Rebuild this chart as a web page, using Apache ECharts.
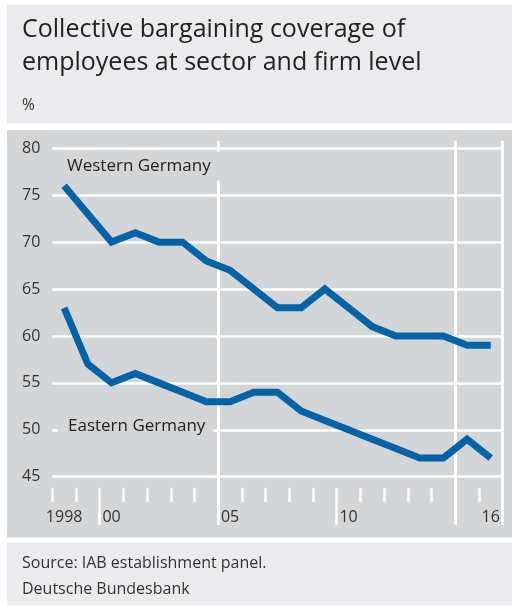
<!DOCTYPE html>
<html>
<head>
<meta charset="utf-8">
<script src="https://cdn.jsdelivr.net/npm/echarts@6/dist/echarts.min.js"></script>
<style>html,body{margin:0;padding:0;background:#fff}#c{width:512px;height:606px}</style>
</head>
<body>
<div id="c"></div>
<script>
const years = ['1998','1999','2000','2001','2002','2003','2004','2005','2006','2007','2008','2009','2010','2011','2012','2013','2014','2015','2016'];
const western = [76,73,70,71,70,70,68,67,65,63,63,65,63,61,60,60,60,59,59];
const eastern = [63,57,55,56,55,54,53,53,54,54,52,51,50,49,48,47,47,49,47];
const xTickLabels = {'1998':'1998','2000':'00','2005':'05','2010':'10','2016':'16'};
const yMin = 45, yMax = 80, yStep = 5;
const titleText = 'Collective bargaining coverage of\nemployees at sector and firm level';
const unitText = '%';
const sourceText = 'Source: IAB establishment panel.';
const creditText = 'Deutsche Bundesbank';
const seriesNames = ['Western Germany','Eastern Germany'];
const breakYears = ['2005','2015'];
const longTickYears = ['2000','2010'];

const FONT = '"Open Sans", "Noto Sans", sans-serif';
const LINE = '#0063a6';
const PANEL = '#ebebed';
const PLOT = '#d4d5d7';
const TXT = '#222';

const chart = echarts.init(document.getElementById('c'), null, {renderer:'canvas'});
const gridSpec = {left: 52.3, right: 9.4, top: 148.3, bottom: 129.3};
const catAxis = (extra) => Object.assign({
  type:'category', data: years, boundaryGap: true, gridIndex: 0,
  axisLine:{show:false}, axisLabel:{show:false}, splitLine:{show:false},
  axisTick:{show:false}
}, extra);

chart.setOption({
  backgroundColor:'#fff',
  animation:false,
  graphic:[
    {type:'rect', z:-10, shape:{x:7,y:5,width:505,height:118}, style:{fill:PANEL}},
    {type:'rect', z:-10, shape:{x:7,y:130,width:505,height:407.5}, style:{fill:PLOT}},
    {type:'rect', z:-10, shape:{x:7,y:542.5,width:505,height:63}, style:{fill:PANEL}},
    {type:'text', x:22, y:14, style:{text:titleText, font:'25px '+FONT, lineHeight:32.5, fill:TXT}},
    {type:'text', x:22, y:106, style:{text:unitText, font:'15.5px '+FONT, fill:'#333', verticalAlign:'middle'}},
    {type:'text', x:22, y:563, style:{text:sourceText, font:'16px '+FONT, fill:'#333', verticalAlign:'middle'}},
    {type:'text', x:22, y:589, style:{text:creditText, font:'16px '+FONT, fill:'#333', verticalAlign:'middle'}},
    {type:'text', z:50, x:60, y:166, style:{text:seriesNames[0], font:'17px '+FONT, fill:TXT, verticalAlign:'middle', backgroundColor:PLOT, padding:[5,12,7,7]}},
    {type:'text', z:50, x:58, y:426, style:{text:seriesNames[1], font:'17px '+FONT, fill:TXT, verticalAlign:'middle', backgroundColor:PLOT, padding:[5,8,5,10]}}
  ],
  grid: gridSpec,
  yAxis:{
    type:'value', min:yMin, max:yMax, interval:yStep,
    axisLine:{show:false}, axisTick:{show:false},
    axisLabel:{color:'#333', fontSize:16, fontFamily:FONT, margin:12},
    splitLine:{lineStyle:{color:'#fff', width:2.5}}
  },
  xAxis:[
    catAxis({
      position:'bottom', offset:0,
      splitLine:{show:true, interval:(i)=>breakYears.includes(years[i]), lineStyle:{color:'#fff', width:3}},
      axisTick:{show:true, interval:(i)=>breakYears.includes(years[i]), length:48, lineStyle:{color:'#fff', width:3}}
    }),
    catAxis({
      position:'top', offset:0,
      axisTick:{show:true, interval:(i)=>breakYears.includes(years[i]), length:7.5, lineStyle:{color:'#fff', width:3}}
    }),
    catAxis({
      position:'bottom', offset:11,
      axisTick:{show:true, interval:0, length:14, lineStyle:{color:'#fff', width:2.5}},
      axisLabel:{show:true, interval:0, color:'#333', fontSize:16, fontFamily:FONT, margin:22,
        formatter:(v)=>xTickLabels[v] || ''}
    }),
    catAxis({
      position:'bottom', offset:11,
      axisTick:{show:true, interval:(i)=>longTickYears.includes(years[i]), length:37, lineStyle:{color:'#fff', width:2.5}}
    })
  ],
  series:[
    {name:seriesNames[0], type:'line', data:western, xAxisIndex:0, symbol:'none', z:10,
     lineStyle:{color:LINE, width:7, join:'miter', cap:'butt'}},
    {name:seriesNames[1], type:'line', data:eastern, xAxisIndex:0, symbol:'none', z:10,
     lineStyle:{color:LINE, width:7, join:'miter', cap:'butt'}}
  ]
});
</script>
</body>
</html>
